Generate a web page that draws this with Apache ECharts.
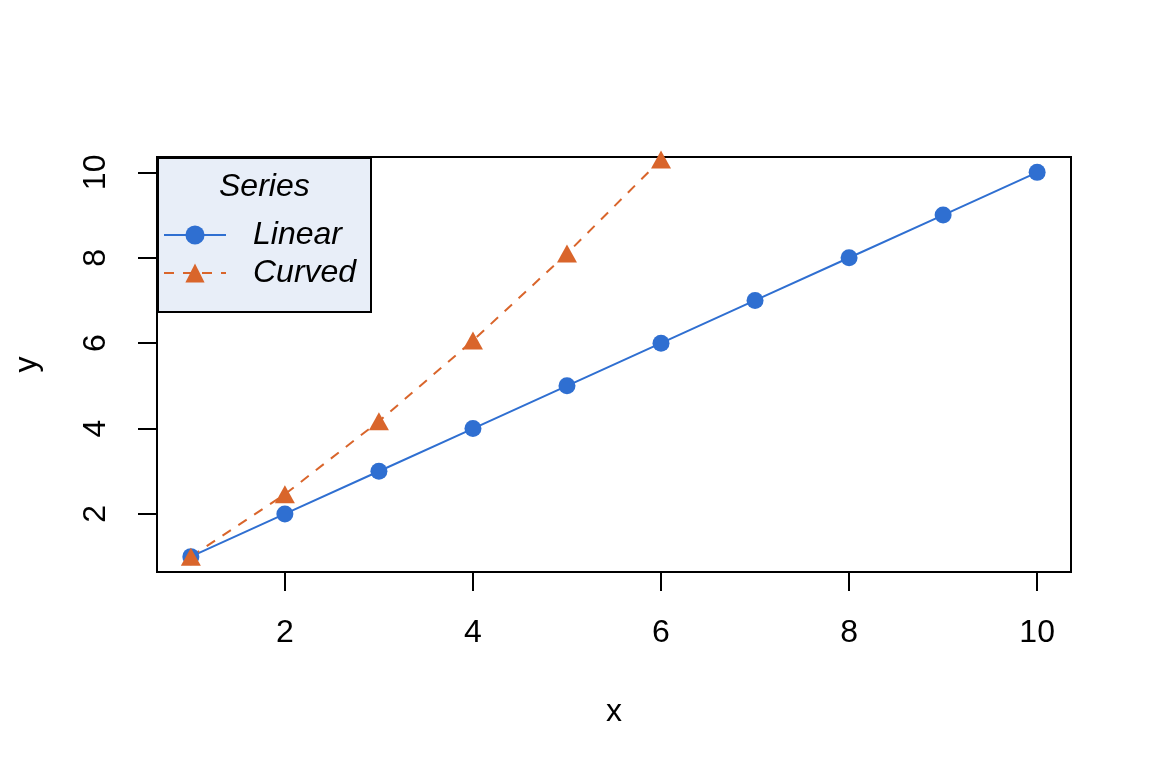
<!DOCTYPE html>
<html>
<head>
<meta charset="utf-8">
<script src="https://cdn.jsdelivr.net/npm/echarts@6/dist/echarts.min.js"></script>
<style>
  html, body { margin: 0; padding: 0; background: #fff; }
  #chart { width: 1152px; height: 768px; }
</style>
</head>
<body>
<div id="chart"></div>
<script>
// data
var xValues = [1, 2, 3, 4, 5, 6, 7, 8, 9, 10];
var linearValues = [1, 2, 3, 4, 5, 6, 7, 8, 9, 10];
var curvedValues = [1, 2.46, 4.17, 6.06, 8.1, 10.3];
var tickValues = [2, 4, 6, 8, 10];
var seriesNames = ['Linear', 'Curved'];
var legendTitle = 'Series';

var FONT = 'Liberation Sans, Arial, Helvetica, sans-serif';
var BLUE = '#2F6FD1';
var ORANGE = '#D9652B';

function pairs(xs, ys) {
    var out = [];
    for (var i = 0; i < ys.length; i++) out.push([xs[i], ys[i]]);
    return out;
}

var myChart = echarts.init(document.getElementById('chart'));

var option = {
    backgroundColor: '#fff',
    animation: false,
    textStyle: { fontFamily: FONT },
    grid: {
        left: 157, right: 81, top: 157, bottom: 196,
        show: true,
        borderColor: '#000',
        borderWidth: 2,
        backgroundColor: 'transparent',
        outerBoundsMode: 'none'
    },
    xAxis: {
        type: 'value',
        min: 0.64,
        max: 10.36,
        name: 'x',
        nameLocation: 'middle',
        nameGap: 124,
        nameTextStyle: { fontSize: 32, color: '#000', fontFamily: FONT },
        axisLine: { show: false },
        splitLine: { show: false },
        axisTick: {
            show: true, inside: false, length: 19,
            customValues: tickValues,
            lineStyle: { color: '#000', width: 2 }
        },
        axisLabel: {
            customValues: tickValues,
            fontSize: 32, color: '#000', fontFamily: FONT,
            margin: 45
        }
    },
    yAxis: {
        type: 'value',
        min: 0.64,
        max: 10.36,
        name: 'y',
        nameLocation: 'middle',
        nameGap: 114,
        nameRotate: 90,
        nameTextStyle: { fontSize: 32, color: '#000', fontFamily: FONT },
        axisLine: { show: false },
        splitLine: { show: false },
        axisTick: {
            show: true, inside: false, length: 19,
            customValues: tickValues,
            lineStyle: { color: '#000', width: 2 }
        },
        axisLabel: {
            customValues: tickValues,
            rotate: 90,
            fontSize: 32, color: '#000', fontFamily: FONT,
            margin: 45
        }
    },
    legend: {
        orient: 'vertical',
        left: 163,
        top: 219,
        itemWidth: 62,
        itemHeight: 24,
        itemGap: 6,
        padding: 0,
        textStyle: {
            fontSize: 32, fontStyle: 'italic', color: '#000', fontFamily: FONT,
            padding: [0, 0, 0, 22]
        },
        data: seriesNames
    },
    graphic: [
        {
            type: 'rect',
            left: 157, top: 157, z: -1,
            shape: { width: 213, height: 154 },
            style: { fill: '#E8EEF8', stroke: '#000', lineWidth: 2 }
        },
        {
            type: 'text',
            left: 219, top: 171,
            style: {
                text: legendTitle,
                font: 'italic 32px ' + FONT,
                fill: '#000'
            }
        }
    ],
    series: [
        {
            name: seriesNames[0],
            type: 'line',
            data: pairs(xValues, linearValues),
            symbol: 'circle',
            symbolSize: 17,
            lineStyle: { color: BLUE, width: 2 },
            itemStyle: { color: BLUE },
            clip: true
        },
        {
            name: seriesNames[1],
            type: 'line',
            data: pairs(xValues, curvedValues),
            symbol: 'triangle',
            symbolSize: [20, 18],
            lineStyle: { color: ORANGE, width: 2, type: [10, 9] },
            itemStyle: { color: ORANGE },
            clip: true
        }
    ]
};

myChart.setOption(option);
</script>
</body>
</html>
